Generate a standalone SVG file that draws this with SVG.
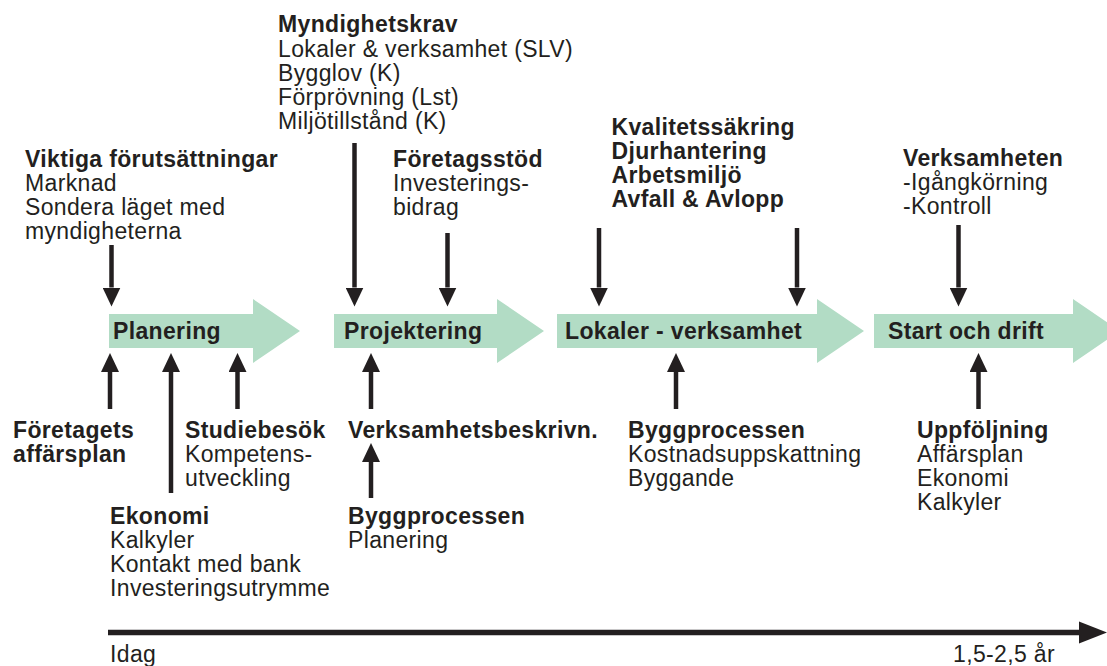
<svg xmlns="http://www.w3.org/2000/svg" width="1107" height="666" viewBox="0 0 1107 666">
<style>
  text { font-family: "Liberation Sans", Arial, Helvetica, sans-serif; font-size: 23px; letter-spacing: 0.35px; fill: #231f20; }
  .b { font-weight: bold; }
  .phase { fill: #b2dcc5; stroke: none; }
  .conn { stroke: #231f20; stroke-width: 4.5; fill: none; }
  .tl { stroke: #231f20; stroke-width: 5.5; fill: none; }
</style>
<defs>
  <marker id="ah" viewBox="0 0 19 18" refX="0" refY="9" markerWidth="19" markerHeight="18" markerUnits="userSpaceOnUse" orient="auto">
    <path d="M0,0 L19,9 L0,18 Z" fill="#231f20"/>
  </marker>
</defs>
<rect width="1107" height="666" fill="#ffffff"/>

<g id="phase-planering">
  <polygon class="phase" points="109,314 253,314 253,299 300,331 253,363 253,348 109,348"/>
  <text class="b" x="113" y="338.5">Planering</text>
</g>
<g id="phase-projektering">
  <polygon class="phase" points="334,314 497,314 497,299 544,331 497,363 497,348 334,348"/>
  <text class="b" x="344" y="338.5">Projektering</text>
</g>
<g id="phase-lokaler">
  <polygon class="phase" points="557,314 817,314 817,299 864,331 817,363 817,348 557,348"/>
  <text class="b" x="565" y="338.5">Lokaler - verksamhet</text>
</g>
<g id="phase-start">
  <polygon class="phase" points="874,314 1073,314 1073,299 1120,331 1073,363 1073,348 874,348"/>
  <text class="b" x="888" y="338.5">Start och drift</text>
</g>

<g id="myndighetskrav">
  <text class="b" x="278" y="32">Myndighetskrav</text>
  <text x="278" y="56.5">Lokaler &amp; verksamhet (SLV)</text>
  <text x="278" y="80.5">Bygglov (K)</text>
  <text x="278" y="104.5">Förprövning (Lst)</text>
  <text x="278" y="128.5">Miljötillstånd (K)</text>
</g>
<g id="viktiga">
  <text class="b" x="25" y="166.5">Viktiga förutsättningar</text>
  <text x="25" y="190.5">Marknad</text>
  <text x="25" y="214.5">Sondera läget med</text>
  <text x="25" y="238.5">myndigheterna</text>
</g>
<g id="foretagsstod">
  <text class="b" x="393" y="166.5">Företagsstöd</text>
  <text x="393" y="190.5">Investerings-</text>
  <text x="393" y="214.5">bidrag</text>
</g>
<g id="kvalitet">
  <text class="b" x="611.5" y="135">Kvalitetssäkring</text>
  <text class="b" x="611.5" y="159">Djurhantering</text>
  <text class="b" x="611.5" y="183">Arbetsmiljö</text>
  <text class="b" x="611.5" y="207">Avfall &amp; Avlopp</text>
</g>
<g id="verksamheten">
  <text class="b" x="903" y="165.5">Verksamheten</text>
  <text x="903" y="189.5">-Igångkörning</text>
  <text x="903" y="213.5">-Kontroll</text>
</g>
<g id="foretagets">
  <text class="b" x="13" y="438">Företagets</text>
  <text class="b" x="13" y="462">affärsplan</text>
</g>
<g id="studiebesok">
  <text class="b" x="185" y="438">Studiebesök</text>
  <text x="185" y="462">Kompetens-</text>
  <text x="185" y="486">utveckling</text>
</g>
<g id="verksamhetsbeskrivning">
  <text class="b" x="348" y="438">Verksamhetsbeskrivn.</text>
</g>
<g id="byggprocessen-2">
  <text class="b" x="628" y="438">Byggprocessen</text>
  <text x="628" y="462">Kostnadsuppskattning</text>
  <text x="628" y="486">Byggande</text>
</g>
<g id="uppfoljning">
  <text class="b" x="917" y="438">Uppföljning</text>
  <text x="917" y="462">Affärsplan</text>
  <text x="917" y="486">Ekonomi</text>
  <text x="917" y="510">Kalkyler</text>
</g>
<g id="ekonomi">
  <text class="b" x="110" y="523.5">Ekonomi</text>
  <text x="110" y="547.5">Kalkyler</text>
  <text x="110" y="571.5">Kontakt med bank</text>
  <text x="110" y="595.5">Investeringsutrymme</text>
</g>
<g id="byggprocessen-1">
  <text class="b" x="348" y="523.5">Byggprocessen</text>
  <text x="348" y="547.5">Planering</text>
</g>

<g id="connectors">
  <path class="conn" d="M111.5,245 V287.5" marker-end="url(#ah)"/>
  <path class="conn" d="M354.5,143 V287.5" marker-end="url(#ah)"/>
  <path class="conn" d="M447.5,233 V287.5" marker-end="url(#ah)"/>
  <path class="conn" d="M599,228 V287.5" marker-end="url(#ah)"/>
  <path class="conn" d="M797,228 V287.5" marker-end="url(#ah)"/>
  <path class="conn" d="M958.5,225 V287.5" marker-end="url(#ah)"/>
  <path class="conn" d="M110,409 V372" marker-end="url(#ah)"/>
  <path class="conn" d="M171,493 V372" marker-end="url(#ah)"/>
  <path class="conn" d="M237.5,409 V372" marker-end="url(#ah)"/>
  <path class="conn" d="M371,409 V372" marker-end="url(#ah)"/>
  <path class="conn" d="M371,498 V462" marker-end="url(#ah)"/>
  <path class="conn" d="M676,409 V372" marker-end="url(#ah)"/>
  <path class="conn" d="M978.5,409 V372" marker-end="url(#ah)"/>
</g>

<g id="timeline">
  <line class="tl" x1="108" y1="632.5" x2="1081" y2="632.5"/>
  <polygon points="1079,621.5 1107,632.5 1079,643.5" fill="#231f20"/>
  <text x="110" y="662">Idag</text>
  <text x="953" y="662">1,5-2,5 år</text>
</g>
</svg>
